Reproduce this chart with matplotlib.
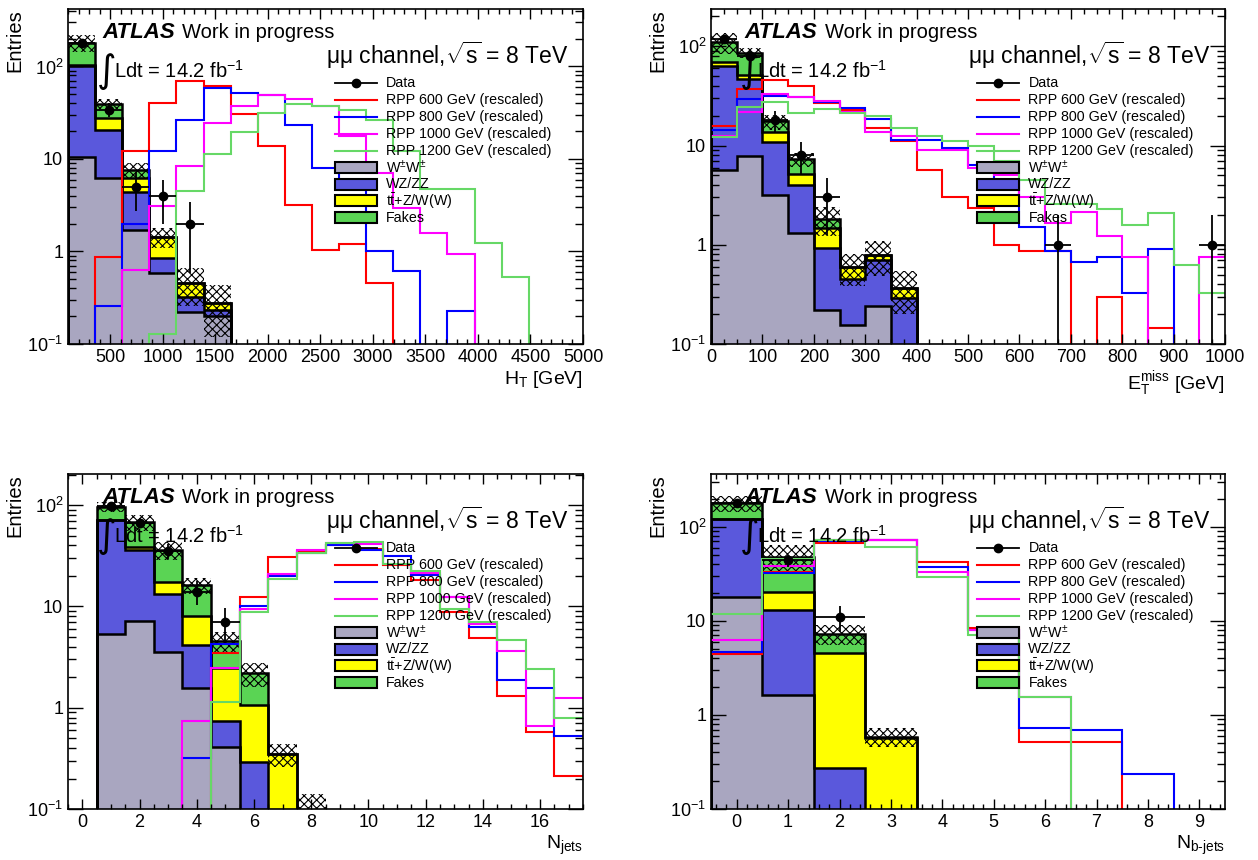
import numpy as np
import matplotlib
matplotlib.use('Agg')
import matplotlib.pyplot as plt
from matplotlib.patches import Rectangle
from matplotlib.ticker import LogLocator, FuncFormatter, MultipleLocator, NullFormatter

plt.rcParams['font.family'] = ['Liberation Sans', 'DejaVu Sans']
plt.rcParams['mathtext.fontset'] = 'custom'
plt.rcParams['mathtext.rm'] = 'Liberation Sans'
plt.rcParams['mathtext.it'] = 'Liberation Sans:italic'
plt.rcParams['mathtext.bf'] = 'Liberation Sans:bold'
plt.rcParams['hatch.linewidth'] = 0.8

c_ww = '#a9a6c0'
c_wz = '#5a58dc'
c_tt = '#ffff00'
c_fk = '#5ad454'
sig_colors = ['#ff0000', '#0000ff', '#ff00ff', '#66d866']
sig_masses = [600, 800, 1000, 1200]

# ---------------- H_T (19 bins, 100-5000 GeV) ----------------
ht_edges = np.linspace(100, 5000, 20)
ht_ww = [10.6, 6.2, 1.7, 0.58, 0.22, 0.2, 0, 0, 0, 0, 0, 0, 0, 0, 0, 0, 0, 0, 0]
ht_wz = [91.4, 14.4, 2.7, 0.26, 0.1, 0.035, 0, 0, 0, 0, 0, 0, 0, 0, 0, 0, 0, 0, 0]
ht_tt = [3, 6.9, 1.8, 0.6, 0.14, 0.04, 0, 0, 0, 0, 0, 0, 0, 0, 0, 0, 0, 0, 0]
ht_fk = [76, 11.8, 1.4, 0, 0, 0, 0, 0, 0, 0, 0, 0, 0, 0, 0, 0, 0, 0, 0]
ht_band = [38, 5, 1.5, 0.35, 0.2, 0.155, 0, 0, 0, 0, 0, 0, 0, 0, 0, 0, 0, 0, 0]
ht_data = [180, 34, 5, 4, 2, 0, 0, 0, 0, 0, 0, 0, 0, 0, 0, 0, 0, 0, 0]
ht_rpp600 = [0, 0.87, 12.2, 40, 70, 61.5, 30.6, 13.8, 3.2, 1.04, 1.2, 0.46, 0, 0, 0, 0, 0, 0, 0]
ht_rpp800 = [0, 0.26, 2.0, 12.2, 26.4, 58, 52, 49, 23.3, 7.9, 5.2, 1.0, 0.62, 0, 0.23, 0, 0, 0, 0]
ht_rpp1000 = [0, 0, 0.63, 3.1, 8.5, 24.3, 37.4, 49, 44.2, 37.4, 17.7, 7.1, 2.93, 1.57, 0.94, 0, 0, 0, 0]
ht_rpp1200 = [0, 0, 0, 0.128, 4.5, 11.3, 19.7, 31.7, 39.3, 37.4, 33.9, 26.4, 12.3, 4.7, 4.7, 1.24, 0.53, 0, 0]

# ---------------- E_T^miss ----------------
met_edges = np.arange(0, 1001, 50)
met_ww = [5.7, 7.9, 3.2, 1.31, 0.22, 0.157, 0.24, 0, 0, 0, 0, 0, 0, 0, 0, 0, 0, 0, 0, 0]
met_wz = [58.3, 39.1, 7.6, 2.72, 0.71, 0.29, 0.47, 0.29, 0, 0, 0, 0, 0, 0, 0, 0, 0, 0, 0, 0]
met_tt = [5, 5, 2.8, 1.17, 0.55, 0.15, 0.07, 0.08, 0, 0, 0, 0, 0, 0, 0, 0, 0, 0, 0, 0]
met_fk = [41, 34, 3.9, 2.1, 0.35, 0, 0, 0, 0, 0, 0, 0, 0, 0, 0, 0, 0, 0, 0, 0]
met_band = [27, 10, 3, 1.2, 0.6, 0.21, 0.3, 0.17, 0, 0, 0, 0, 0, 0, 0, 0, 0, 0, 0, 0]
met_data = [119, 80, 18, 8, 3, 0, 0, 0, 0, 0, 0, 0, 0, 1, 0, 0, 0, 0, 0, 1]
met_rpp600 = [15.8, 37.5, 45.4, 39.5, 26.9, 23, 15.2, 11, 5.7, 3.0, 2.35, 1.0, 0.86, 0.86, 0, 0.295, 0, 0.145, 0, 0]
met_rpp800 = [14.4, 29.5, 31.9, 30.9, 27.5, 23.9, 18.5, 11.5, 11.5, 9.5, 6.3, 4.3, 1.5, 0.86, 0.67, 0.75, 0.33, 0.91, 0, 0]
met_rpp1000 = [12.6, 21.6, 33, 31, 28, 22, 13.6, 12.4, 9.1, 9, 6, 5, 3, 1.66, 2.14, 1.22, 0.75, 0, 0, 0.76]
met_rpp1200 = [12.2, 24.5, 27.3, 21.3, 23.5, 21.3, 20, 15, 12.5, 11, 10, 7, 4.5, 2.6, 2.6, 2.3, 1.6, 2.1, 0.62, 0.33]

# ---------------- N_jets ----------------
nj_edges = np.arange(-0.5, 18, 1)
nj_ww = [0, 5.4, 7.2, 3.57, 1.56, 0.41, 0, 0, 0, 0, 0, 0, 0, 0, 0, 0, 0, 0]
nj_wz = [0, 65.6, 28.8, 9.73, 2.6, 0.335, 0.29, 0, 0, 0, 0, 0, 0, 0, 0, 0, 0, 0]
nj_tt = [0, 0.5, 2.5, 4.2, 3.84, 1.7, 0.77, 0.35, 0.05, 0, 0, 0, 0, 0, 0, 0, 0, 0]
nj_fk = [0, 25, 29.1, 18.5, 8.3, 2.13, 1.13, 0, 0, 0, 0, 0, 0, 0, 0, 0, 0, 0]
nj_band = [0, 10, 12, 7, 3, 1.0, 0.6, 0.09, 0.09, 0, 0, 0, 0, 0, 0, 0, 0, 0]
nj_data = [0, 97, 67, 35, 14, 7, 0, 0, 0, 0, 0, 0, 0, 0, 0, 0, 0, 0]
nj_rpp600 = [0, 0, 0, 0, 0, 3.5, 12.5, 30.5, 35.2, 40, 37.3, 25.6, 18.2, 8.9, 4.9, 1.3, 0.57, 0.21]
nj_rpp800 = [0, 0, 0, 0, 0.32, 4.25, 10.1, 20, 34, 40, 36, 31.4, 20.4, 12.5, 6.3, 1.88, 1.55, 0.53]
nj_rpp1000 = [0, 0, 0, 0, 0.745, 2.45, 9.5, 20.9, 36, 42.5, 41.8, 26, 21.2, 12.5, 6.7, 3.63, 0.66, 1.26]
nj_rpp1200 = [0, 0, 0, 0, 0, 1.15, 8.9, 18.6, 33.5, 42.5, 43.4, 26, 22.5, 9.4, 7.06, 4.66, 2.39, 0.8]

# ---------------- N_b-jets ----------------
nb_edges = np.arange(-0.5, 10, 1)
nb_ww = [17.9, 1.62, 0, 0, 0, 0, 0, 0, 0, 0]
nb_wz = [103, 11.3, 0.27, 0, 0, 0, 0, 0, 0, 0]
nb_tt = [1, 7.3, 4.33, 0.565, 0, 0, 0, 0, 0, 0]
nb_fk = [57, 27.4, 2.7, 0.025, 0, 0, 0, 0, 0, 0]
nb_band = [35, 16, 1.8, 0.13, 0, 0, 0, 0, 0, 0]
nb_data = [180, 44, 11, 0, 0, 0, 0, 0, 0, 0]
nb_rpp600 = [4.5, 33, 68, 72, 42.8, 8.5, 0.52, 0.52, 0, 0]
nb_rpp800 = [4.7, 32, 70, 72, 37.3, 8, 0.73, 0.7, 0.235, 0]
nb_rpp1000 = [6.3, 38.5, 72, 72, 33.5, 8, 1.55, 0, 0, 0]
nb_rpp1200 = [11.9, 46, 72, 61.7, 29.2, 7.1, 1.55, 0, 0, 0]

FLOOR = 1e-4
stack_cols = [c_ww, c_wz, c_tt, c_fk]
legend_entries = [('data', 'k', 'Data')]
legend_entries += [('line', c, 'RPP %d GeV (rescaled)' % mm) for c, mm in zip(sig_colors, sig_masses)]
legend_entries += [('box', c_ww, r'W$^{\pm}$W$^{\pm}$'), ('box', c_wz, 'WZ/ZZ'),
                   ('box', c_tt, r't$\bar{\mathrm{t}}$+Z/W(W)'), ('box', c_fk, 'Fakes')]


def yfmt(v, pos):
    e = int(round(np.log10(v)))
    if e == 0:
        return '1'
    if e == 1:
        return '10'
    return r'$10^{%d}$' % e


def draw_legend(ax):
    lx0, lx1, tx = 0.518, 0.600, 0.6175
    ly0, ldy, bh = 0.778, 0.0501, 0.033
    for i, (kind, col, lab) in enumerate(legend_entries):
        y = ly0 - i * ldy
        if kind == 'box':
            ax.add_patch(Rectangle((lx0, y - bh / 2), lx1 - lx0, bh, transform=ax.transAxes,
                                   facecolor=col, edgecolor='k', lw=1.5))
        else:
            ax.plot([lx0, lx1], [y, y], transform=ax.transAxes, color=col,
                    lw=1.3 if kind == 'data' else 1.5)
            if kind == 'data':
                ax.plot([(lx0 + lx1) / 2], [y], 'o', ms=6, color='k', transform=ax.transAxes)
        ax.text(tx, y, lab, transform=ax.transAxes, fontsize=10.3, va='center')


def draw_panel(ax, edges, stack, band, data, sigs, ymax, xlabel, xmaj, xmin):
    edges = np.asarray(edges, float)
    base = np.zeros(len(edges) - 1)
    tops = []
    for vals, col in zip(stack, stack_cols):
        top = base + np.asarray(vals, float)
        ax.stairs(np.maximum(top, FLOOR), edges, baseline=np.maximum(base, FLOOR),
                  fill=True, facecolor=col, edgecolor='none', lw=0)
        tops.append(top)
        base = top
    for top in tops:
        ax.stairs(np.maximum(top, FLOOR), edges, baseline=FLOOR, color='k', lw=1.8)

    total = base
    band = np.asarray(band, float)
    ax.stairs(np.maximum(total + band, FLOOR), edges,
              baseline=np.maximum(total - band, FLOOR), fill=True,
              facecolor='none', edgecolor='k', hatch='xxxx', lw=0)

    for vals, col in zip(sigs, sig_colors):
        ax.stairs(np.maximum(np.asarray(vals, float), FLOOR), edges, baseline=None,
                  color=col, lw=1.5)

    data = np.asarray(data, float)
    centers = 0.5 * (edges[1:] + edges[:-1])
    half = 0.5 * np.diff(edges)
    m = data > 0
    ax.errorbar(centers[m], data[m], yerr=np.sqrt(data[m]), xerr=half[m], fmt='o',
                color='k', ms=6, lw=1.3, capsize=0)

    ax.set_yscale('log')
    ax.set_xlim(edges[0], edges[-1])
    ax.set_ylim(0.1, ymax)
    ax.yaxis.set_major_locator(LogLocator(base=10))
    ax.yaxis.set_minor_locator(LogLocator(base=10, subs=np.arange(2, 10)))
    ax.yaxis.set_major_formatter(FuncFormatter(yfmt))
    ax.yaxis.set_minor_formatter(NullFormatter())
    ax.xaxis.set_major_locator(MultipleLocator(xmaj))
    ax.xaxis.set_minor_locator(MultipleLocator(xmin))
    ax.tick_params(which='both', direction='in', top=True, right=True, labelsize=13, width=1.0)
    ax.tick_params(axis='y', which='major', length=10.5)
    ax.tick_params(axis='y', which='minor', length=5.5)
    ax.tick_params(axis='x', which='major', length=7)
    ax.tick_params(axis='x', which='minor', length=3.5)
    for s in ax.spines.values():
        s.set_linewidth(1.2)
    ax.set_xlabel(xlabel, loc='right', fontsize=14, labelpad=2)
    ax.set_ylabel('Entries', loc='top', fontsize=14.5, labelpad=2)

    ax.text(0.066, 0.913, 'ATLAS', transform=ax.transAxes, fontsize=16,
            fontweight='bold', fontstyle='italic', va='baseline')
    ax.text(0.221, 0.913, 'Work in progress', transform=ax.transAxes, fontsize=14.5,
            va='baseline')
    ax.text(0.056, 0.782, '\u222b', transform=ax.transAxes, fontsize=27,
            family='DejaVu Sans', va='baseline')
    ax.text(0.090, 0.794, 'Ldt = 14.2 fb$^{-1}$', transform=ax.transAxes, fontsize=14.5,
            va='baseline')
    ax.text(0.971, 0.836, r'$\mathrm{\mu\mu}$ channel,$\sqrt{\mathrm{s}}$ = 8 TeV',
            transform=ax.transAxes, fontsize=16.5, ha='right', va='baseline')
    draw_legend(ax)


fig = plt.figure(figsize=(12.58, 8.60), dpi=100)
W, H = 1258.0, 860.0
ax1 = fig.add_axes([68 / W, 1 - 344 / H, 515 / W, 335 / H])
ax2 = fig.add_axes([711 / W, 1 - 344 / H, 514 / W, 335 / H])
ax3 = fig.add_axes([68 / W, 1 - 809 / H, 515 / W, 335 / H])
ax4 = fig.add_axes([711 / W, 1 - 809 / H, 514 / W, 335 / H])

draw_panel(ax1, ht_edges, [ht_ww, ht_wz, ht_tt, ht_fk], ht_band, ht_data,
           [ht_rpp600, ht_rpp800, ht_rpp1000, ht_rpp1200], 418,
           r'H$_{\mathrm{T}}$ [GeV]', 500, 100)
draw_panel(ax2, met_edges, [met_ww, met_wz, met_tt, met_fk], met_band, met_data,
           [met_rpp600, met_rpp800, met_rpp1000, met_rpp1200], 238,
           r'E$_{\mathrm{T}}^{\mathrm{miss}}$ [GeV]', 100, 25)
draw_panel(ax3, nj_edges, [nj_ww, nj_wz, nj_tt, nj_fk], nj_band, nj_data,
           [nj_rpp600, nj_rpp800, nj_rpp1000, nj_rpp1200], 203,
           r'N$_{\mathrm{jets}}$', 2, 0.5)
draw_panel(ax4, nb_edges, [nb_ww, nb_wz, nb_tt, nb_fk], nb_band, nb_data,
           [nb_rpp600, nb_rpp800, nb_rpp1000, nb_rpp1200], 365,
           r'N$_{\mathrm{b\text{-}jets}}$', 1, 0.2)

fig.savefig('out.png', dpi=100)
